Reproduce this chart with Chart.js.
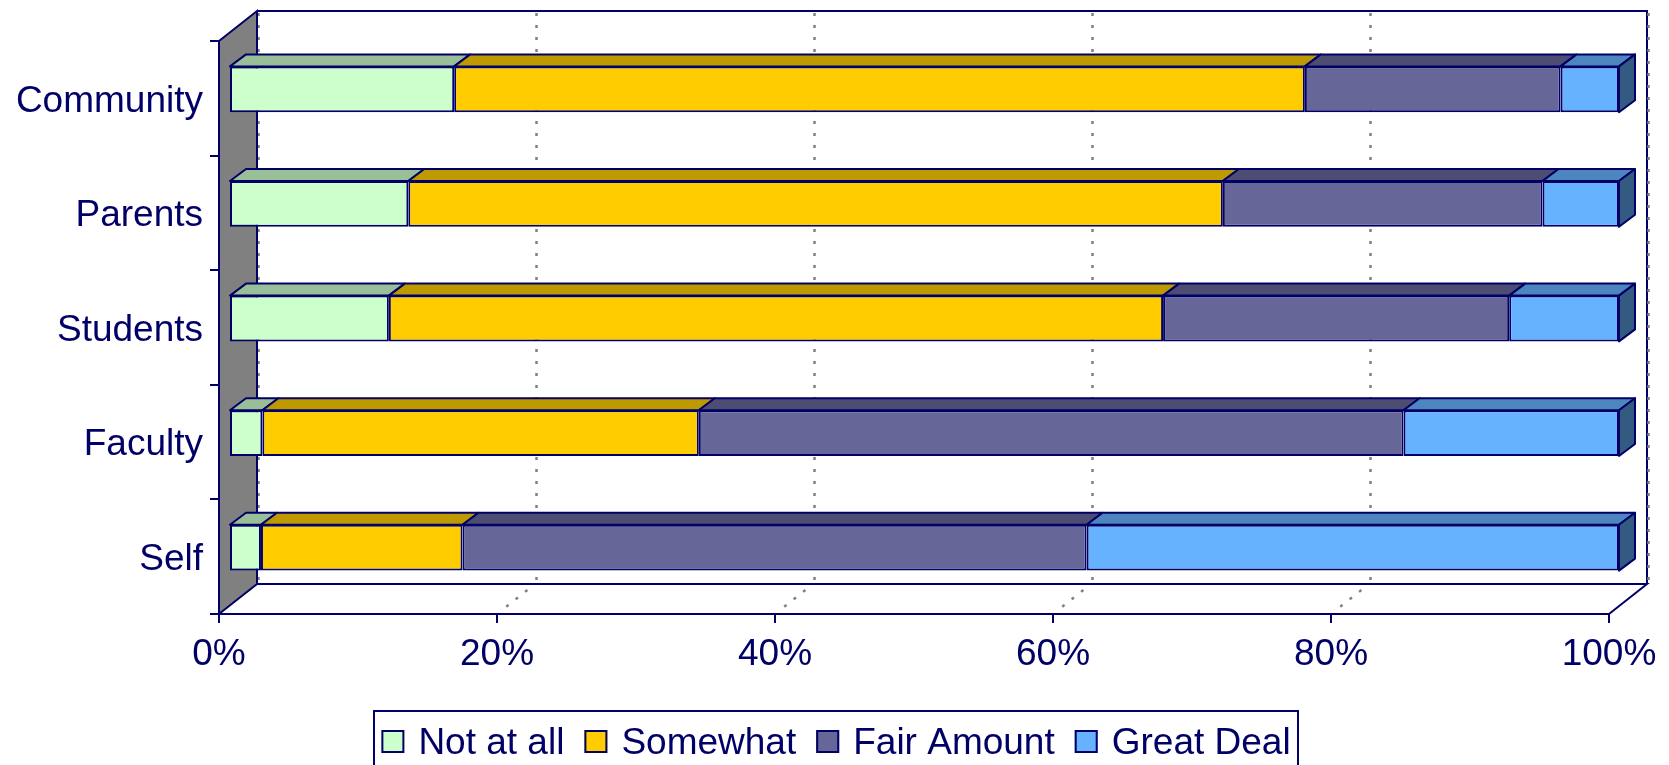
<!DOCTYPE html>
<html>
<head>
<meta charset="utf-8">
<script src="https://cdn.jsdelivr.net/npm/chart.js@4.4.1/dist/chart.umd.min.js"></script>
<style>
  html, body { margin: 0; padding: 0; background: #ffffff; }
  #wrap { width: 1669px; height: 765px; }
</style>
</head>
<body>
<div id="wrap"><canvas id="c" width="1669" height="765"></canvas></div>
<script>
// Share of responses per group (each row sums to 100%)
const categories = ['Community', 'Parents', 'Students', 'Faculty', 'Self'];
const notAtAll   = [16.2, 12.9, 11.5,  2.4,  2.3];
const somewhat   = [61.2, 58.6, 55.7, 31.4, 14.5];
const fairAmount = [18.4, 23.0, 24.9, 50.7, 44.9];
const greatDeal  = [ 4.2,  5.5,  7.9, 15.5, 38.3];
const seriesNames = ['Not at all', 'Somewhat', 'Fair Amount', 'Great Deal'];
const xTickValues = [0, 20, 40, 60, 80, 100];

// Styling
const NAVY = '#000066';
const FONT = '"Liberation Sans", Arial, sans-serif';
const frontColors = ['#CCFFCC', '#FFCC00', '#666699', '#66B2FF'];
const topColors   = ['#99BF99', '#BF9900', '#4D4D73', '#4D86BF'];
const endColor    = '#335A80';

// Depth of the 3D box (front plane -> back wall) and of the bars inside it
const BOX_DX = 38, BOX_DY = -30;
const BAR_SHIFT_X = 10, BAR_SHIFT_Y = -9;   // bars sit slightly behind the front plane
const BAR_DX = 16, BAR_DY = -12;            // bar thickness in depth

const seriesData = [notAtAll, somewhat, fairAmount, greatDeal];

function dotted(ctx, x1, y1, x2, y2) {
  ctx.save();
  ctx.strokeStyle = '#808080';
  ctx.lineWidth = 2.5;
  ctx.setLineDash([3, 9]);
  ctx.beginPath();
  ctx.moveTo(x1, y1);
  ctx.lineTo(x2, y2);
  ctx.stroke();
  ctx.restore();
}

const box3d = {
  id: 'box3d',
  beforeDatasetsDraw(chart) {
    const ctx = chart.ctx;
    const a = chart.chartArea;
    const xs = chart.scales.x;
    const L = a.left, R = a.right, T = a.top, B = a.bottom;

    ctx.save();
    ctx.lineJoin = 'miter';
    // back wall outline (top + right edge)
    ctx.strokeStyle = NAVY;
    ctx.lineWidth = 2;
    ctx.beginPath();
    ctx.moveTo(L + BOX_DX, T + BOX_DY);
    ctx.lineTo(R + BOX_DX, T + BOX_DY);
    ctx.lineTo(R + BOX_DX, B + BOX_DY);
    ctx.stroke();

    // vertical grid lines on the back wall and receding lines on the floor
    xTickValues.forEach(v => {
      const xf = xs.getPixelForValue(v);
      dotted(ctx, xf + BOX_DX + 1.5, T + BOX_DY + 2, xf + BOX_DX + 1.5, B + BOX_DY);
      if (v > 0 && v < 100) {
        dotted(ctx, xf + BOX_DX * 0.8, B + BOX_DY * 0.8, xf + BOX_DX * 0.2, B + BOX_DY * 0.2);
      }
    });

    // floor outline
    ctx.strokeStyle = NAVY;
    ctx.lineWidth = 2;
    ctx.beginPath();
    ctx.moveTo(L + BOX_DX, B + BOX_DY);
    ctx.lineTo(R + BOX_DX, B + BOX_DY);
    ctx.lineTo(R, B);
    ctx.stroke();

    // grey side wall
    ctx.fillStyle = '#808080';
    ctx.beginPath();
    ctx.moveTo(L, T);
    ctx.lineTo(L + BOX_DX, T + BOX_DY);
    ctx.lineTo(L + BOX_DX, B + BOX_DY);
    ctx.lineTo(L, B);
    ctx.closePath();
    ctx.fill();
    ctx.stroke();
    ctx.restore();

    // bars are drawn a little behind the front plane
    ctx.save();
    ctx.translate(BAR_SHIFT_X, BAR_SHIFT_Y);
  },
  afterDatasetsDraw(chart) {
    const ctx = chart.ctx;
    ctx.lineJoin = 'round';
    ctx.strokeStyle = NAVY;
    ctx.lineWidth = 2;
    const n = chart.data.datasets.length;
    for (let d = 0; d < n; d++) {
      const meta = chart.getDatasetMeta(d);
      meta.data.forEach(el => {
        const p = el.getProps(['x', 'y', 'base', 'height'], true);
        const x0 = Math.min(p.x, p.base), x1 = Math.max(p.x, p.base);
        const yT = p.y - p.height / 2, yB = p.y + p.height / 2;
        // top face
        ctx.fillStyle = topColors[d];
        ctx.beginPath();
        ctx.moveTo(x0, yT);
        ctx.lineTo(x0 + BAR_DX, yT + BAR_DY);
        ctx.lineTo(x1 + BAR_DX, yT + BAR_DY);
        ctx.lineTo(x1, yT);
        ctx.closePath();
        ctx.fill();
        ctx.stroke();
        // end face of the last segment
        if (d === n - 1) {
          ctx.fillStyle = endColor;
          ctx.beginPath();
          ctx.moveTo(x1, yT);
          ctx.lineTo(x1 + BAR_DX, yT + BAR_DY);
          ctx.lineTo(x1 + BAR_DX, yB + BAR_DY);
          ctx.lineTo(x1, yB);
          ctx.closePath();
          ctx.fill();
          ctx.stroke();
        }
      });
    }
    ctx.restore();
  },
  afterDraw(chart) {
    // legend in a framed box below the axis
    const ctx = chart.ctx;
    ctx.save();
    ctx.font = '37px ' + FONT;
    const sw = 23, gapText = 14, gapItem = 20;
    const widths = chart.data.datasets.map(ds => ctx.measureText(ds.label).width);
    const total = widths.reduce((s, w) => s + w, 0) + widths.length * (sw + gapText) + (widths.length - 1) * gapItem;
    const boxL = 374, boxR = 1298, boxT = 711;
    let x = (boxL + boxR) / 2 - total / 2;
    const cy = 741.5;
    ctx.strokeStyle = NAVY;
    ctx.lineWidth = 2;
    ctx.strokeRect(boxL, boxT, boxR - boxL, 80);
    ctx.textBaseline = 'middle';
    ctx.textAlign = 'left';
    chart.data.datasets.forEach((ds, i) => {
      ctx.fillStyle = frontColors[i];
      ctx.fillRect(x, cy - sw / 2, sw, sw);
      ctx.strokeStyle = NAVY;
      ctx.lineWidth = 2;
      ctx.strokeRect(x + 1, cy - sw / 2 + 1, sw - 2, sw - 2);
      ctx.fillStyle = NAVY;
      ctx.fillText(ds.label, x + sw + gapText, cy + 2);
      x += sw + gapText + widths[i] + gapItem;
    });
    ctx.restore();
  }
};

new Chart(document.getElementById('c'), {
  type: 'bar',
  data: {
    labels: categories,
    datasets: seriesNames.map((name, i) => ({
      label: name,
      data: seriesData[i],
      backgroundColor: frontColors[i],
      borderColor: NAVY,
      borderWidth: 2,
      borderSkipped: false,
      barPercentage: 0.4,
      categoryPercentage: 1.0,
      clip: false
    }))
  },
  options: {
    indexAxis: 'y',
    responsive: false,
    animation: false,
    layout: { padding: { top: 41, left: 0, right: 60, bottom: 51 } },
    plugins: { legend: { display: false }, tooltip: { enabled: false } },
    scales: {
      x: {
        stacked: true,
        min: 0, max: 100,
        afterBuildTicks: s => { s.ticks = xTickValues.map(v => ({ value: v })); },
        afterFit: s => { s.height = 100; },
        ticks: {
          callback: v => v + '%',
          font: { family: FONT, size: 37 },
          color: NAVY,
          padding: 10,
          maxRotation: 0,
          autoSkip: false
        },
        grid: { drawOnChartArea: false, drawTicks: true, tickLength: 9, color: NAVY, lineWidth: 2 },
        border: { display: true, color: NAVY, width: 2 }
      },
      y: {
        stacked: true,
        afterFit: s => { s.width = 219; },
        ticks: {
          font: { family: FONT, size: 37 },
          color: NAVY,
          padding: 7,
          labelOffset: 3,
          autoSkip: false
        },
        grid: { offset: true, drawOnChartArea: false, drawTicks: true, tickLength: 9, color: NAVY, lineWidth: 2 },
        border: { display: true, color: NAVY, width: 2 }
      }
    }
  },
  plugins: [box3d]
});
</script>
</body>
</html>
